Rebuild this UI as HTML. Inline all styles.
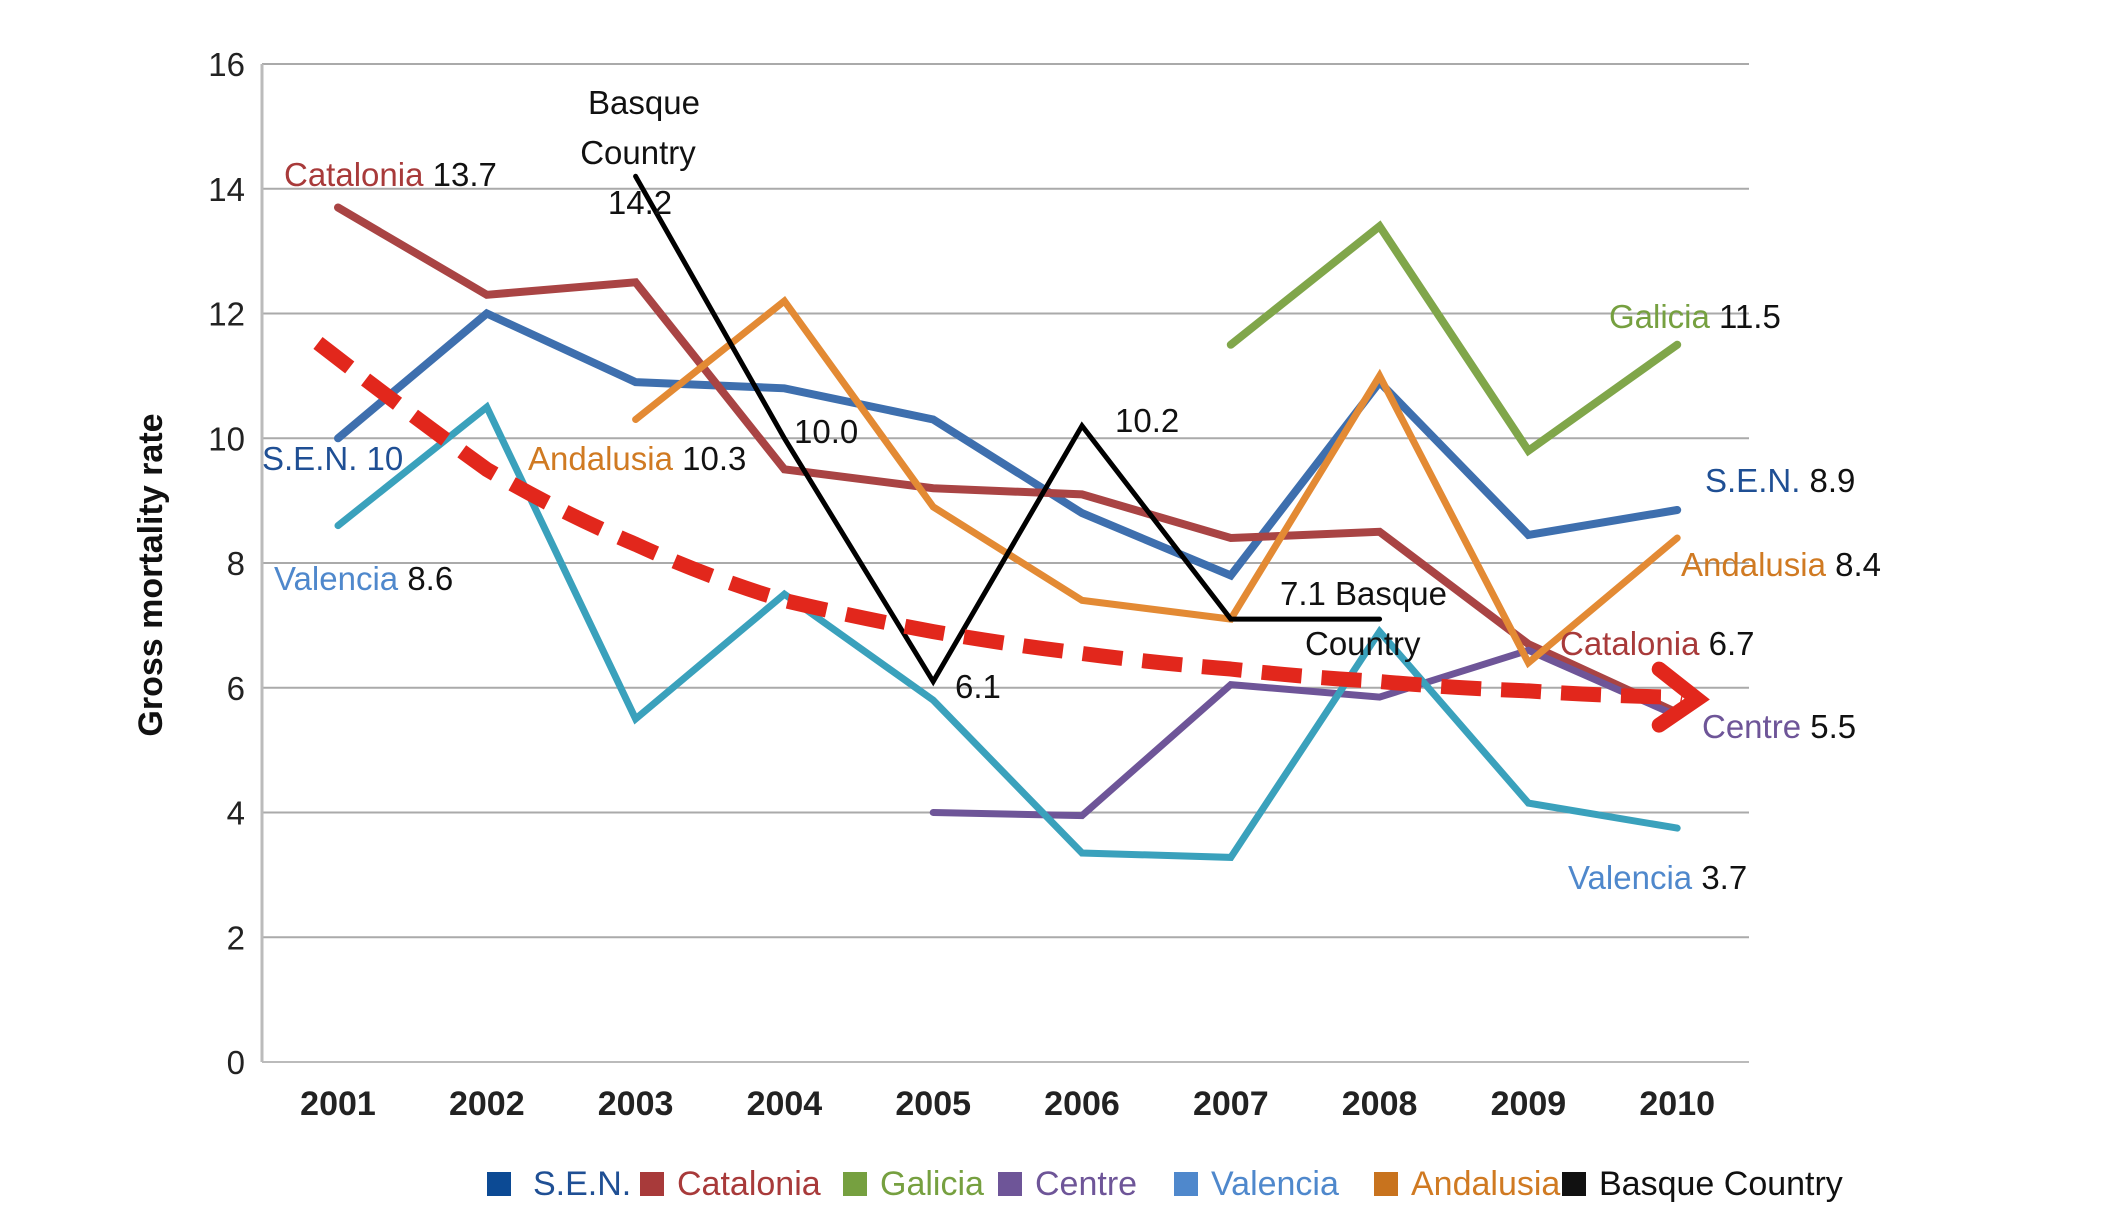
<!DOCTYPE html>
<html><head><meta charset="utf-8"><style>
html,body{margin:0;padding:0;background:#fff;}
svg text{font-family:"Liberation Sans",sans-serif;}
</style></head><body>
<svg id="chart" width="2106" height="1213" viewBox="0 0 2106 1213" xmlns="http://www.w3.org/2000/svg">
<g id="grid"></g>
<g id="series"></g>
<g id="labels" font-size="33"></g>
<g id="legend" font-size="34"></g>
</svg>
<script>
const years = [2001,2002,2003,2004,2005,2006,2007,2008,2009,2010];
const yTicks = [0,2,4,6,8,10,12,14,16];
const senValues = [10,12,10.9,10.8,10.3,8.8,7.8,10.9,8.45,8.85];
const catalonia = [13.7,12.3,12.5,9.5,9.2,9.1,8.4,8.5,6.7,5.6];
const galicia = [null,null,null,null,null,null,11.5,13.4,9.8,11.5];
const centre = [null,null,null,null,4.0,3.95,6.05,5.85,6.6,5.55];
const valencia = [8.6,10.5,5.5,7.5,5.8,3.35,3.28,6.9,4.15,3.75];
const andalusia = [null,null,10.3,12.2,8.9,7.4,7.1,11.0,6.4,8.4];
const basque = [null,null,14.2,10.0,6.1,10.2,7.1,7.1,null,null];
const trend = [11.4,9.5,8.3,7.4,6.9,6.55,6.3,6.1,5.95,5.85];

const NS="http://www.w3.org/2000/svg";
const X0=262,X1=1749,Y0=1062,Y16=64;
const xPos=i=>338+i*148.8;
const yPos=v=>Y0-(v/16)*(Y0-Y16);
function mk(tag,attrs,parent){const e=document.createElementNS(NS,tag);for(const k in attrs)e.setAttribute(k,attrs[k]);parent.appendChild(e);return e;}
const grid=document.getElementById('grid');
yTicks.forEach(t=>{
  const l=mk('line',{x1:X0,x2:X1,y1:yPos(t),y2:yPos(t),stroke:t===0?'#bbb':'#aaa','stroke-width':2},grid);
  
  
  const tx=mk('text',{x:245,y:yPos(t)+12,'text-anchor':'end','font-size':33,fill:'#222'},grid);
  tx.textContent=t;
  
  
});
const ax=mk('line',{x1:X0,x2:X0,y1:Y16,y2:Y0,stroke:'#bbb','stroke-width':3},grid);


years.forEach((y,i)=>{
  const tx=mk('text',{x:xPos(i),y:1115,'text-anchor':'middle','font-size':34,'font-weight':'bold',fill:'#222'},grid);
  tx.textContent=y;
  
  
});
const yt=mk('text',{x:0,y:0,transform:'translate(162,575) rotate(-90)','text-anchor':'middle','font-size':34,'font-weight':'bold',fill:'#111'},grid);
yt.textContent='Gross mortality rate';



const sg=document.getElementById('series');
function pathFor(vals){let d='',pen=false;vals.forEach((v,i)=>{if(v==null){pen=false;return;}d+=(pen?'L':'M')+xPos(i).toFixed(1)+' '+yPos(v).toFixed(1)+' ';pen=true;});return d;}
const defs=[['sen',senValues,'#3e6fae',8],['catalonia',catalonia,'#a94444',8],['galicia',galicia,'#80a64a',8],['centre',centre,'#6e5598',7],['valencia',valencia,'#3aa1bc',7],['andalusia',andalusia,'#e38a34',7],['basque',basque,'#000',5]];
defs.forEach(([n,v,c,w])=>{
  const p=mk('path',{d:pathFor(v),fill:'none',stroke:c,'stroke-width':w,'stroke-linejoin':'miter','stroke-linecap':'round'},sg);
  
  
});
let td='';trend.forEach((v,i)=>{const x=xPos(i),y=yPos(v);if(i===0)td='M'+(x-20)+' '+(y-8);else{const px=xPos(i-1),py=yPos(trend[i-1]);td+=' Q'+((px+x)/2)+' '+((py+y)/2+(i<4?6:2))+' '+x+' '+y;}});
const tp=mk('path',{d:td+' L'+(xPos(9)+5)+' '+(yPos(trend[9])+1),fill:'none',stroke:'#e2271c','stroke-width':15,'stroke-dasharray':'40 20'},sg);


const ex=xPos(9)+20,ey=yPos(trend[9])+2;
const ar=mk('path',{d:`M${ex-38} ${ey-30} L${ex} ${ey} L${ex-38} ${ey+26}`,fill:'none',stroke:'#e2271c','stroke-width':15,'stroke-linecap':'round','stroke-linejoin':'miter'},sg);



const lg=document.getElementById('labels');
function lab(x,y,parts,name,anchor){const t=mk('text',{x:x,y:y,'text-anchor':anchor||'start'},lg);parts.forEach(([s,c])=>{const ts=mk('tspan',{fill:c},t);ts.textContent=s;});}
lab(284,186,[['Catalonia ','#a83a3a'],['13.7','#111']],'label-catalonia-2001');
lab(644,114,[['Basque','#111']],'label-basque-1','middle');
lab(638,164,[['Country','#111']],'label-basque-2','middle');
lab(640,214,[['14.2','#111']],'label-basque-3','middle');
lab(262,470,[['S.E.N. 10','#1f4f94']],'label-sen-2001');
lab(528,470,[['Andalusia ','#d07a22'],['10.3','#111']],'label-andalusia-2003');
lab(794,443,[['10.0','#111']],'label-basque-2004');
lab(1115,432,[['10.2','#111']],'label-basque-2006');
lab(955,698,[['6.1','#111']],'label-basque-2005');
lab(274,590,[['Valencia ','#4f88cc'],['8.6','#111']],'label-valencia-2001');
lab(1280,605,[['7.1 Basque','#111']],'label-basque-2007');
lab(1305,655,[['Country','#111']],'label-basque-2007b');
lab(1609,328,[['Galicia ','#76a040'],['11.5','#111']],'label-galicia-2010');
lab(1705,492,[['S.E.N. ','#1f4f94'],['8.9','#111']],'label-sen-2010');
lab(1681,576,[['Andalusia ','#d07a22'],['8.4','#111']],'label-andalusia-2010');
lab(1560,655,[['Catalonia ','#a83a3a'],['6.7','#111']],'label-catalonia-2010');
lab(1702,738,[['Centre ','#6e5598'],['5.5','#111']],'label-centre-2010');
lab(1568,889,[['Valencia ','#4f88cc'],['3.7','#111']],'label-valencia-2010');

const legendNames=['S.E.N.','Catalonia','Galicia','Centre','Valencia','Andalusia','Basque Country'];
const legendColors=['#0c4a94','#a83a3a','#76a040','#6e5598','#4f88cc','#c8731e','#111'];
const legendText=['#1f4f94','#a83a3a','#76a040','#6e5598','#4f88cc','#d07a22','#111'];
const legendX=[487,640,843,998,1174,1374,1562];
const leg=document.getElementById('legend');
legendNames.forEach((n,i)=>{
  const g=mk('g',{},leg);
  
  
  mk('rect',{x:legendX[i],y:1172,width:24,height:24,fill:legendColors[i]},g);
  const t=mk('text',{x:legendX[i]+(i===0?46:37),y:1195,fill:legendText[i]},g);
  t.textContent=n;
});
</script>
</body></html>
